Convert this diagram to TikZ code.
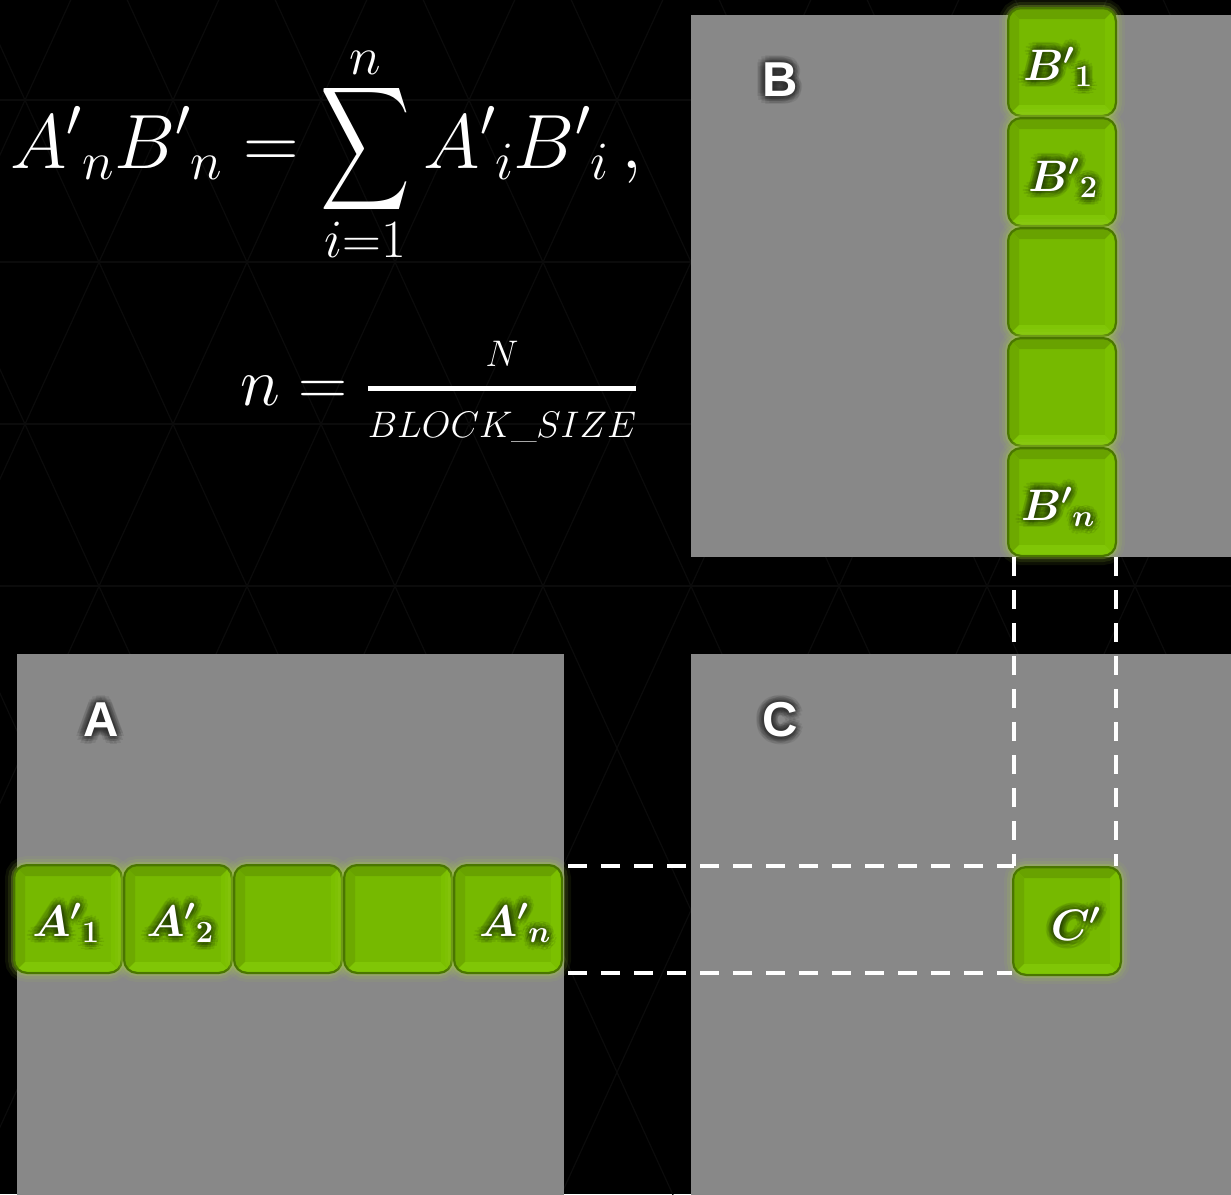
\RequirePackage{fix-cm}
\documentclass[tikz,border=0pt]{standalone}
\usepackage{amsmath}
\usepackage{graphicx}
\usepackage{fontspec}
\setsansfont{Liberation Sans}
\usetikzlibrary{calc}

\definecolor{matgray}{HTML}{888888}
\definecolor{nvgreen}{HTML}{76B900}
\definecolor{tileedge}{HTML}{4A7600}
\definecolor{bevtop}{HTML}{68A200}
\definecolor{bevleft}{HTML}{6DA900}
\definecolor{bevbottom}{HTML}{80C606}
\definecolor{bevright}{HTML}{7BC000}
\definecolor{tileglow}{HTML}{A8D43C}
\definecolor{tilehalo}{HTML}{223A00}
\definecolor{labelhalo}{HTML}{2A2A2A}
\definecolor{latticeline}{HTML}{0B0B0B}

% text with a soft dark halo behind it
\newcommand\halolabel[5]{% name, position, halo colour, style, text
  \foreach \ang in {0,30,...,330}{\foreach \rad in {2.5,5,7.5}{
    \node[#4, text=#3, text opacity=0.11, shift={(\ang:\rad pt)}] at (#2) {#5};}}
  \node[#4, text=white] (#1) at (#2) {#5};}

% a large summation sign
\newcommand\bigsigma{\mathop{\vcenter{\hbox{\resizebox{90pt}{136pt}{$\displaystyle\sum$}}}}}

\tikzset{
  matbox/.style={fill=matgray, draw=none, anchor=north west, inner sep=0},
  tile/.style={rounded corners=13pt, minimum width=108pt, minimum height=108pt,
    inner sep=0, draw=tileedge, line width=2pt, fill=nvgreen,
    preaction={draw=tileglow, line width=18pt, draw opacity=0.08},
    preaction={draw=tileglow, line width=12pt, draw opacity=0.12},
    preaction={draw=tileglow, line width=6pt, draw opacity=0.25},
    path picture={
      \fill[bevtop, sharp corners] (path picture bounding box.north west) -- (path picture bounding box.north east)
        -- ([shift={(-11pt,-11pt)}]path picture bounding box.north east) -- ([shift={(11pt,-11pt)}]path picture bounding box.north west) -- cycle;
      \fill[bevleft, sharp corners] (path picture bounding box.north west) -- (path picture bounding box.south west)
        -- ([shift={(11pt,11pt)}]path picture bounding box.south west) -- ([shift={(11pt,-11pt)}]path picture bounding box.north west) -- cycle;
      \fill[bevbottom, sharp corners] (path picture bounding box.south west) -- (path picture bounding box.south east)
        -- ([shift={(-11pt,11pt)}]path picture bounding box.south east) -- ([shift={(11pt,11pt)}]path picture bounding box.south west) -- cycle;
      \fill[bevright, sharp corners] (path picture bounding box.north east) -- (path picture bounding box.south east)
        -- ([shift={(-11pt,11pt)}]path picture bounding box.south east) -- ([shift={(-11pt,-11pt)}]path picture bounding box.north east) -- cycle;
      \draw[tileedge, line width=2.5pt, draw opacity=0.6, rounded corners=13pt] (path picture bounding box.north west) rectangle (path picture bounding box.south east);
    }},
  tilelabel/.style={inner sep=0, font=\fontsize{44}{52}\selectfont\boldmath},
  matlabel/.style={inner sep=0, font=\sffamily\bfseries\fontsize{49}{58}\selectfont},
  projline/.style={white, line width=4pt, dash pattern=on 19pt off 14pt},
  formula/.style={white, inner sep=0, anchor=base west}
}

\begin{document}
\begin{tikzpicture}[x=1pt, y=-1pt]
  \useasboundingbox (0,0) rectangle (1231,1194);
  \fill[black] (0,0) rectangle (1231,1194);

  % faint triangular lattice in the background
  \begin{scope}
    \clip (0,0) rectangle (1231,1194);
    \foreach \k in {-2,...,14}{
      \draw[latticeline, line width=1.2pt] ({25+148*\k+91.4},-100) -- ({25+148*\k-548},1300);
      \draw[latticeline, line width=1.2pt] ({25+148*\k-91.4},-100) -- ({25+148*\k+548},1300);
    }
    \foreach \yy in {100,262,424,586}{
      \draw[latticeline, line width=1.2pt] (0,\yy) -- (1231,\yy);
    }
  \end{scope}

  % the three matrices (running past the lower and right edges)
  \node[matbox, minimum width=547pt, minimum height=550pt] (matA) at (17,654) {};
  \node[matbox, minimum width=550pt, minimum height=542pt] (matB) at (691,15) {};
  \node[matbox, minimum width=550pt, minimum height=550pt] (matC) at (691,654) {};

  \halolabel{labA}{101,720}{labelhalo}{matlabel}{A}
  \halolabel{labB}{780,80}{labelhalo}{matlabel}{B}
  \halolabel{labC}{780,720}{labelhalo}{matlabel}{C}

  % formulas
  \node[formula, font=\fontsize{77}{90}\selectfont] (eqsum) at (10,168)
    {$\displaystyle {A'}_{n}{B'}_{n} = \bigsigma\limits_{i=1}^{n} {A'}_{i}{B'}_{i}\,,$};
  \node[formula, font=\fontsize{68}{80}\selectfont] (eqn) at (240,405)
    {$n = \genfrac{}{}{5pt}{1}{\raisebox{12pt}{\fontsize{37}{44}\selectfont$N$}}{\raisebox{-9pt}{\fontsize{37}{44}\selectfont$BLOCK$\kern-1pt\_\kern-1pt$SIZE$}}$};

  % projection lines from the strips onto C
  \coordinate (bl) at (1014,557);
  \coordinate (br) at (1116,557);
  \coordinate (ctl) at (1014,866);
  \coordinate (ctr) at (1116,866);
  \coordinate (cbl) at (1012,973);
  \coordinate (atr) at (568,866);
  \coordinate (abr) at (568,973);

  % strip of A
  \node[tile] (A1) at (68,919) {};
  \node[tile] (A2) at (178,919) {};
  \node[tile] (A3) at (288,919) {};
  \node[tile] (A4) at (398,919) {};
  \node[tile] (An) at (508,919) {};

  % strip of B
  \node[tile] (B1) at (1062,62) {};
  \node[tile] (B2) at (1062,172) {};
  \node[tile] (B3) at (1062,282) {};
  \node[tile] (B4) at (1062,392) {};
  \node[tile] (Bn) at (1062,502) {};

  % block of C
  \node[tile] (Cp) at (1067,921) {};

  \draw[projline] (atr) -- (ctl);
  \draw[projline] (abr) -- (cbl);
  \draw[projline] (bl) -- (ctl);
  \draw[projline] (br) -- (ctr);

  % block labels
  \halolabel{tA1}{66,923}{tilehalo}{tilelabel}{${A'}_{1}$}
  \halolabel{tA2}{180,923}{tilehalo}{tilelabel}{${A'}_{2}$}
  \halolabel{tAn}{515,923}{tilehalo}{tilelabel}{${A'}_{n}$}
  \halolabel{tB1}{1058,67}{tilehalo}{tilelabel}{${B'}_{1}$}
  \halolabel{tB2}{1063,178}{tilehalo}{tilelabel}{${B'}_{2}$}
  \halolabel{tBn}{1058,507}{tilehalo}{tilelabel}{${B'}_{n}$}
  \halolabel{tC}{1076,924}{tilehalo}{tilelabel}{${C'}$}
\end{tikzpicture}
\end{document}
